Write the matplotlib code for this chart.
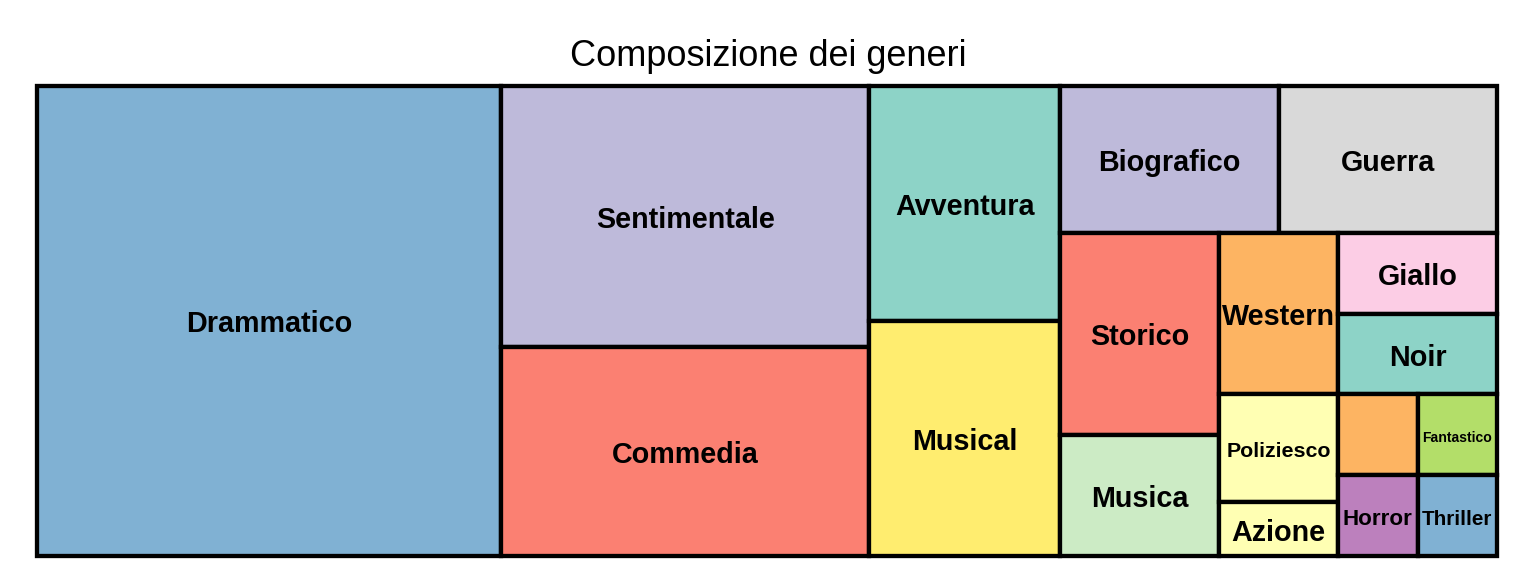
import matplotlib
matplotlib.use("Agg")
import matplotlib.pyplot as plt
from matplotlib.patches import Rectangle

plt.rcParams['font.family'] = ['Liberation Sans', 'DejaVu Sans']

# Data (alphabetical order, number of films per genre)
genres = ["Avventura", "Azione", "Biografico", "Commedia", "Drammatico", "Fantascienza",
          "Fantastico", "Giallo", "Guerra", "Horror", "Musica", "Musical", "Noir",
          "Poliziesco", "Sentimentale", "Storico", "Thriller", "Western"]
counts = [7, 1, 5, 12, 34, 1, 1, 2, 5, 1, 3, 7, 2, 2, 15, 5, 1, 3]
title = "Composizione dei generi"

# Set3 colours, recycled over the alphabetical index
set3 = plt.get_cmap("Set3").colors
colors = [set3[i % len(set3)] for i in range(len(genres))]


# Pivot-by-size layout
def pivot(items, x, y, w, h):
    if not items:
        return []
    if len(items) == 1:
        return [(items[0][0], x, y, w, h)]
    total = sum(v for _, v in items)
    p = items[0][1]
    rest = items[1:]
    wide = w >= h
    best_k, best_ar = 0, float("inf")
    for k in range(len(rest) + 1):
        s = p + sum(v for _, v in rest[:k])
        if wide:
            a, b = w * s / total, h * p / s
        else:
            a, b = h * s / total, w * p / s
        ar = max(a / b, b / a)
        if ar < best_ar:
            best_k, best_ar = k, ar
    s = p + sum(v for _, v in rest[:best_k])
    l2, l3 = rest[:best_k], rest[best_k:]
    if wide:
        sw = w * s / total
        ph = h * p / s
        out = [(items[0][0], x, y, sw, ph)]
        out += pivot(l2, x, y + ph, sw, h - ph)
        out += pivot(l3, x + sw, y, w - sw, h)
    else:
        sh = h * s / total
        pw = w * p / s
        out = [(items[0][0], x, y, pw, sh)]
        out += pivot(l2, x + pw, y, w - pw, sh)
        out += pivot(l3, x, y + sh, w, h - sh)
    return out


fig = plt.figure(figsize=(15.36, 5.76), dpi=100)
left, bottom, aw, ah = 37 / 1536, 20 / 576, 1460 / 1536, 470 / 576
ax = fig.add_axes([left, bottom, aw, ah])
W, H = aw * 1536, ah * 576
ax.set_xlim(0, W)
ax.set_ylim(H, 0)
ax.axis("off")

order = sorted(range(len(genres)), key=lambda i: -counts[i])
rects = pivot([(i, counts[i]) for i in order], 0, 0, W, H)

renderer = fig.canvas.get_renderer()
base = 20.7
for i, x, y, w, h in rects:
    ax.add_patch(Rectangle((x, y), w, h, facecolor=colors[i], edgecolor="black",
                           lw=3.1, joinstyle="miter", clip_on=False))
    t = ax.text(x + w / 2, y + h / 2 + 3.5, genres[i], ha="center", va="center",
                fontsize=base, fontweight="bold", color="black")
    bb = t.get_window_extent(renderer)
    if bb.width > w or bb.height > h:
        fs = base * min(0.88 * w / bb.width, 0.88 * h / bb.height)
        if fs < 9:
            t.remove()
        else:
            t.set_fontsize(fs)

fig.text(left + aw / 2 + 1 / 1536, 1 - 57 / 576, title, ha="center", va="center", fontsize=26)

fig.savefig("out.png", dpi=100)
